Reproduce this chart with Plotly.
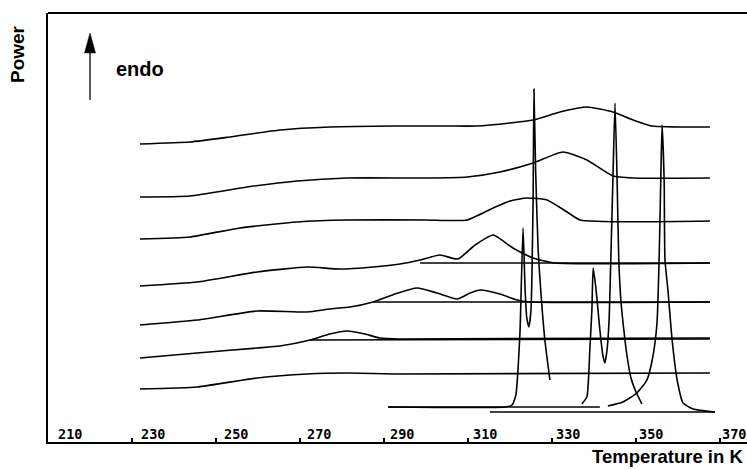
import plotly.graph_objects as go

# ---------------- data (temperature in K, power in arbitrary units) ----------------
tick_vals = [210, 230, 250, 270, 290, 310, 330, 350, 370]
tick_text = ["210", "230", "250", "270", "290", "310", "330", "350", "370"]

# broad scans (top to bottom)
c1_T = [231.9, 243.8, 253.3, 265.2, 277.1, 293.1, 305.0, 312.1, 320.0, 325.5, 331.9, 338.3, 344.5, 349.3, 353.8, 367.6]
c1_P = [298, 300, 305, 312, 315, 316, 316, 316, 319, 322, 330, 335, 330, 322, 316, 315]

c2_T = [231.9, 243.8, 257.4, 269.3, 281.2, 300.0, 309.8, 317.6, 325.5, 332.6, 338.3, 344.5, 349.3, 367.6]
c2_P = [245, 246, 255, 261, 264, 264, 265, 270, 279, 290, 282, 266, 264, 264]

c3_T = [231.9, 243.8, 255.7, 269.3, 281.2, 300.0, 309.8, 316.0, 320.0, 324.0, 328.8, 333.6, 336.7, 367.6]
c3_P = [203, 205, 214, 220, 222, 222, 222, 234, 241, 244, 242, 230, 222, 221]

c4_T = [231.9, 245.5, 259.8, 271.7, 279.5, 287.4, 293.8, 298.6, 303.3, 307.6, 311.7, 316.0, 320.7, 325.5, 330.7, 367.6]
c4_P = [156, 160, 170, 175, 173, 175, 178, 182, 187, 183, 197, 207, 194, 184, 179, 179]
c4_base_T = [298.6, 367.6]
c4_base_P = [179, 179]

c5_T = [231.9, 245.5, 259.8, 271.7, 277.1, 281.9, 287.4, 292.6, 297.9, 302.6, 307.4, 310.5, 312.9, 317.6, 321.7, 324.8, 367.6]
c5_P = [117, 122, 131, 130, 133, 135, 140, 148, 154, 149, 143, 149, 152, 148, 142, 140, 140]
c5_base_T = [287.4, 367.6]
c5_base_P = [140, 140]

c6_T = [231.9, 245.5, 259.8, 265.2, 272.4, 277.1, 281.2, 285.5, 289.0, 293.8, 367.6]
c6_P = [84, 89, 94, 96, 102, 108, 111, 108, 104, 103, 104]
c6_base_T = [272.4, 367.6]
c6_base_P = [102, 103]

c7_T = [231.9, 245.5, 259.8, 271.7, 281.2, 293.8, 367.6]
c7_P = [53, 55, 64, 68, 69, 68, 69]

# sharp melting scans
s1_T = [291.0, 318.8, 320.5, 321.4, 321.9, 322.4, 322.6, 323.1, 323.6, 324.0, 324.5, 325.0, 325.2, 325.5, 325.7, 326.1, 326.7, 327.4, 328.3, 329.5]
s1_P = [35, 35, 37, 47, 72, 112, 142, 214, 152, 124, 115, 132, 162, 242, 353, 272, 192, 147, 102, 62]

s2_T = [337.1, 338.3, 338.8, 339.0, 339.5, 339.8, 340.5, 341.4, 342.1, 342.6, 343.1, 343.6, 344.0, 344.5, 345.0, 345.5, 345.9, 346.4, 347.1, 347.9, 348.8, 349.8, 351.4]
s2_P = [38, 45, 72, 92, 132, 174, 152, 112, 87, 79, 92, 122, 182, 262, 339, 262, 182, 142, 112, 85, 64, 52, 38]

s3_T = [343.3, 346.9, 350.2, 352.6, 354.0, 355.0, 355.5, 355.9, 356.2, 356.7, 356.9, 357.6, 358.6, 359.8, 361.2, 363.6, 368.8]
s3_P = [36, 40, 49, 62, 85, 119, 182, 262, 317, 262, 182, 152, 102, 62, 39, 33, 30]

b1_T = [291.0, 341.4]
b1_P = [35, 35]
b2_T = [315.2, 368.8]
b2_P = [30, 30]

series = [
    (c1_T, c1_P), (c2_T, c2_P), (c3_T, c3_P),
    (c4_T, c4_P), (c4_base_T, c4_base_P),
    (c5_T, c5_P), (c5_base_T, c5_base_P),
    (c6_T, c6_P), (c6_base_T, c6_base_P),
    (c7_T, c7_P),
    (s1_T, s1_P), (s2_T, s2_P), (s3_T, s3_P),
    (b1_T, b1_P), (b2_T, b2_P),
]

# ---------------- figure ----------------
W, H = 747, 470
ML, MR, MT, MB = 48, 0, 13, 28
px_per_K = 4.2
x_max = 210 + (W - ML - MR) / px_per_K

fig = go.Figure()
for T, P in series:
    fig.add_trace(go.Scatter(x=T, y=P, mode="lines",
                             line=dict(color="black", width=1.6, shape="spline", smoothing=0.5),
                             showlegend=False, hoverinfo="skip"))

fig.update_layout(
    width=W, height=H,
    margin=dict(l=ML, r=MR, t=MT, b=MB, pad=0),
    paper_bgcolor="white", plot_bgcolor="white",
    xaxis=dict(range=[210, x_max], tickvals=tick_vals, ticktext=tick_text,
               ticks="inside", ticklen=4, tickwidth=1.5, tickcolor="black",
               showticklabels=False,
               showline=True, linecolor="black", linewidth=2,
               showgrid=False, zeroline=False),
    yaxis=dict(range=[0, 429], showticklabels=False, ticks="",
               showline=True, linecolor="black", linewidth=1.6,
               showgrid=False, zeroline=False),
    font=dict(family="Liberation Sans", color="black"),
)

# tick labels sit just right of each tick, above the axis line
for v, t in zip(tick_vals, tick_text):
    fig.add_annotation(text=t, x=v, xref="x", y=0, yref="paper",
                       xanchor="left", yanchor="bottom",
                       xshift=8 - 0.05 * (v - 210), yshift=-2,
                       showarrow=False,
                       font=dict(family="DejaVu Sans Mono", size=13.5, color="black", weight="bold"))

pw = W - ML - MR
ph = H - MT - MB
def px(xp):
    return (xp - ML) / pw
def py(yp):
    return (H - MB - yp) / ph

# top border
fig.add_shape(type="line", xref="paper", yref="paper", x0=0, x1=1, y0=1, y1=1,
              line=dict(color="black", width=2))
# endo arrow
fig.add_shape(type="line", xref="paper", yref="paper", x0=px(90), x1=px(90), y0=py(100), y1=py(52),
              line=dict(color="black", width=1.3))
fig.add_shape(type="path", xref="paper", yref="paper",
              path=f"M {px(84.5)} {py(53)} L {px(95.5)} {py(53)} L {px(90)} {py(33)} Z",
              fillcolor="black", line=dict(color="black", width=0.5))

fig.add_annotation(text="<b>endo</b>", xref="paper", yref="paper", x=px(114), y=py(69),
                   xanchor="left", yanchor="middle", showarrow=False,
                   font=dict(family="Liberation Sans", size=20, color="black"))
fig.add_annotation(text="<b>Power</b>", xref="paper", yref="paper", x=px(18), y=py(54),
                   xanchor="center", yanchor="middle", showarrow=False, textangle=-90,
                   font=dict(family="Liberation Sans", size=19, color="black"))
fig.add_annotation(text="<b>Temperature in K</b>", xref="paper", yref="paper", x=px(745), y=py(456),
                   xanchor="right", yanchor="middle", showarrow=False,
                   font=dict(family="Liberation Sans", size=18.5, color="black"))

fig.write_html("out.html")
